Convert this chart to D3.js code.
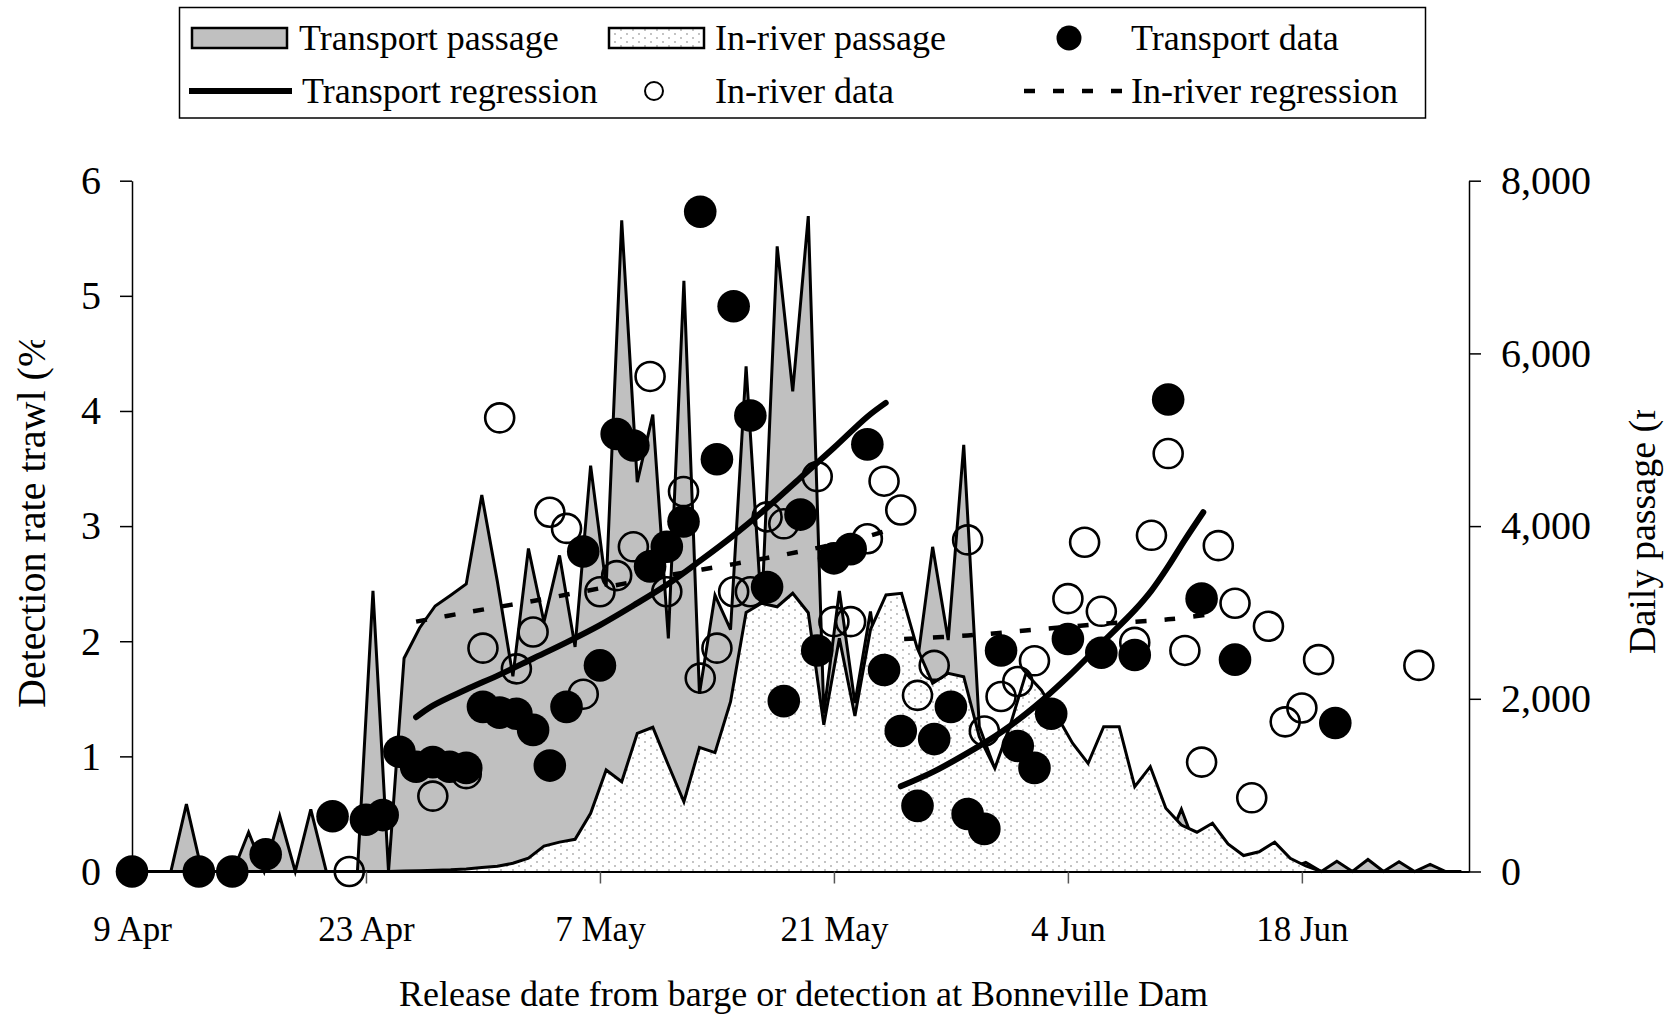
<!DOCTYPE html>
<html><head><meta charset="utf-8">
<script src="https://cdn.jsdelivr.net/npm/d3@7"></script>
<style>
html,body{margin:0;padding:0;background:#fff;}
svg{display:block;}
text{font-family:"Liberation Serif","Times New Roman",serif;fill:#000;}
</style></head><body>
<svg id="chart" width="1676" height="1015"></svg>
<script>
// ---------- DATA ----------
const dateTicks = [0, 14, 28, 42, 56, 70];            // days after 9 Apr
const dateTickLabels = ["9 Apr", "23 Apr", "7 May", "21 May", "4 Jun", "18 Jun"];
const leftTicks = [0, 1, 2, 3, 4, 5, 6];
const rightTicks = [0, 2000, 4000, 6000, 8000];

// daily passage (secondary category axis, 86 days)
const transportPassage = [
  0,0,0,780,0,0,0,455,0,645,
  0,720,0,0,0,3250,0,2470,2820,3075,
  3200,3330,4360,3360,2260,3740,2890,3660,2600,4700,
  3300,7540,4510,5290,2700,6840,2060,3200,2800,5850,
  3000,7240,5560,7590,1830,3250,1950,3010,1800,1600,
  2400,3760,2680,4940,1680,1190,1500,1200,1000,900,
  800,700,600,500,400,350,300,720,250,200,
  150,100,80,60,40,105,0,119,0,139,
  0,112,0,81,0,0
];
const inriverPassage = [
  0,0,0,0,0,0,0,0,0,0,
  0,0,0,0,0,0,0,5,10,15,
  20,30,45,60,95,155,295,340,373,674,
  1175,1040,1600,1670,1233,808,1438,1376,1966,3000,
  3106,3066,3222,2997,1700,2700,1800,2800,3202,3221,
  2590,2180,2295,2256,1561,1195,1700,2295,2100,1800,
  1485,1253,1677,1677,982,1214,732,538,455,558,
  320,185,229,340,153,64,0,0,0,0,
  0,0,0,0,0,0
];

// detection rates (days after 9 Apr)
const transportDay = [0,4,6,8,12,14,15,16,17,18,19,20,21,22,23,24,25,26,27,28,29,30,31,32,33,34,35,36,37,38,39,40,41,42,43,44,45,46,47,48,49,50,51,52,53,54,55,56,58,60,62,64,66,72];
const transportRate = [0,0,0,0.15,0.48,0.45,0.49,1.04,0.91,0.95,0.91,0.90,1.43,1.38,1.37,1.23,0.92,1.43,2.78,1.79,3.80,3.70,2.65,2.82,3.04,5.73,3.58,4.91,3.96,2.47,1.48,3.10,1.92,2.72,2.80,3.71,1.75,1.22,0.57,1.15,1.43,0.50,0.37,1.92,1.09,0.90,1.37,2.02,1.90,1.88,4.10,2.37,1.84,1.29];
const inriverDay = [13,18,20,21,22,23,24,25,26,27,28,29,30,31,32,33,34,35,36,37,38,39,41,42,43,44,45,46,47,48,50,51,52,53,54,56,57,58,60,61,62,63,64,65,66,67,68,69,70,71,77];
const inriverRate = [0,0.655,0.85,1.94,3.94,1.76,2.08,3.12,2.98,1.54,2.43,2.57,2.82,4.30,2.43,3.30,1.68,1.94,2.43,2.43,3.08,3.02,3.43,2.17,2.17,2.89,3.39,3.14,1.53,1.79,2.88,1.22,1.52,1.65,1.83,2.37,2.86,2.26,1.99,2.92,3.63,1.92,0.95,2.83,2.33,0.64,2.13,1.30,1.42,1.84,1.79];

// regressions
const transportReg1Day = [17,18,20,22,24,26,28,30,32,34,36,38,40,42,44,45.1];
const transportReg1Rate = [1.34,1.44,1.58,1.71,1.85,1.99,2.14,2.31,2.49,2.70,2.92,3.16,3.42,3.68,3.95,4.07];
const transportReg2Day = [46,48,50,52,54,56,58,60,61,62,63,64.1];
const transportReg2Rate = [0.74,0.87,1.03,1.21,1.43,1.69,1.98,2.27,2.44,2.65,2.88,3.12];
const inriverReg1Day = [17,20,24,28,32,36,40,44,45.1];
const inriverReg1Rate = [2.17,2.25,2.35,2.46,2.57,2.67,2.78,2.91,2.96];
const inriverReg2Day = [46.2,50,54,58,62,64.3];
const inriverReg2Rate = [2.02,2.05,2.10,2.15,2.19,2.23];

const legendLabels = ["Transport passage","In-river passage","Transport data","Transport regression","In-river data","In-river regression"];
const xTitle = "Release date from barge or detection at Bonneville Dam";
const yLeftTitle = "Detection rate trawl (%";
const yRightTitle = "Daily passage (r";

// ---------- LAYOUT ----------
const svg = d3.select("#chart");
const X0 = 132, X1 = 1469, YB = 871.5, YT = 180.7;

const x = d3.scaleLinear().domain([0, 80]).range([X0, X1]);
const xPass = d3.scaleBand().domain(d3.range(transportPassage.length)).range([X0, X1]);
const yL = d3.scaleLinear().domain([0, 6]).range([YB, YT]);
const yR = d3.scaleLinear().domain([0, 8000]).range([YB, YT]);
const px = i => xPass(i) + xPass.bandwidth() / 2;

const defs = svg.append("defs");
const pat = defs.append("pattern").attr("id", "dots").attr("patternUnits", "userSpaceOnUse")
  .attr("width", 12).attr("height", 8);
pat.append("rect").attr("width", 12).attr("height", 8).attr("fill", "#fff");
pat.append("circle").attr("cx", 3).attr("cy", 2).attr("r", 0.9).attr("fill", "#a8a8a8");
pat.append("circle").attr("cx", 9).attr("cy", 6).attr("r", 0.9).attr("fill", "#a8a8a8");

defs.append("clipPath").attr("id", "clipL").append("rect").attr("x", 0).attr("y", 340).attr("width", 120).attr("height", 600);
defs.append("clipPath").attr("id", "clipR").append("rect").attr("x", 1600).attr("y", 410).attr("width", 76).attr("height", 500);

// ---------- AREAS ----------
const area = d3.area().x((d, i) => px(i)).y0(YB).y1(d => yR(d));
const line = d3.line().x((d, i) => px(i)).y(d => yR(d));

svg.append("path").attr("d", area(transportPassage)).attr("fill", "#c0c0c0");
svg.append("path").attr("d", line(transportPassage)).attr("fill", "none")
  .attr("stroke", "#000").attr("stroke-width", 3);
svg.append("path").attr("d", area(inriverPassage)).attr("fill", "url(#dots)");
svg.append("path").attr("d", line(inriverPassage)).attr("fill", "none")
  .attr("stroke", "#000").attr("stroke-width", 3);

// ---------- AXES ----------
const gx = svg.append("g").attr("transform", `translate(0,${YB})`)
  .call(d3.axisBottom(x).tickValues(dateTicks).tickFormat((d, i) => dateTickLabels[i])
    .tickSize(12).tickSizeOuter(0).tickPadding(33));
gx.select(".domain").attr("stroke", "#000").attr("stroke-width", 2);
gx.selectAll("text").attr("font-size", 35).attr("font-family", "Liberation Serif");

const gl = svg.append("g").attr("transform", `translate(${X0},0)`)
  .call(d3.axisLeft(yL).tickValues(leftTicks).tickFormat(d3.format("d")).tickSize(12).tickSizeOuter(0).tickPadding(19));
gl.selectAll("text").attr("font-size", 40).attr("font-family", "Liberation Serif");

const gr = svg.append("g").attr("transform", `translate(${X1},0)`)
  .call(d3.axisRight(yR).tickValues(rightTicks).tickFormat(d3.format(",")).tickSize(12).tickSizeOuter(0).tickPadding(20));
gr.selectAll("text").attr("font-size", 40).attr("font-family", "Liberation Serif");

[gl, gr].forEach(g => { g.select(".domain").attr("stroke-width", 1.5); g.selectAll(".tick line").attr("stroke-width", 1.5); });
gx.selectAll(".tick line").attr("stroke", "#555").attr("stroke-width", 1.5);

// ---------- REGRESSIONS ----------
const regLine = d3.line().x(d => x(d[0])).y(d => yL(d[1])).curve(d3.curveCatmullRom);
const zip = (a, b) => a.map((d, i) => [d, b[i]]);
[[transportReg1Day, transportReg1Rate], [transportReg2Day, transportReg2Rate]].forEach(([d, r]) => {
  svg.append("path").attr("d", regLine(zip(d, r))).attr("fill", "none")
    .attr("stroke", "#000").attr("stroke-width", 6).attr("stroke-linecap", "round");
});
[[inriverReg1Day, inriverReg1Rate], [inriverReg2Day, inriverReg2Rate]].forEach(([d, r]) => {
  svg.append("path").attr("d", regLine(zip(d, r))).attr("fill", "none")
    .attr("stroke", "#000").attr("stroke-width", 4.5).attr("stroke-dasharray", "11,18");
});

// ---------- POINTS ----------
svg.append("g").selectAll("circle").data(zip(inriverDay, inriverRate)).join("circle")
  .attr("cx", d => x(d[0])).attr("cy", d => yL(d[1])).attr("r", 14.5)
  .attr("fill", "none").attr("stroke", "#000").attr("stroke-width", 2.6);
svg.append("g").selectAll("circle").data(zip(transportDay, transportRate)).join("circle")
  .attr("cx", d => x(d[0])).attr("cy", d => yL(d[1])).attr("r", 16.3).attr("fill", "#000");

// ---------- TITLES ----------
svg.append("text").attr("x", (X0 + X1) / 2 + 3).attr("y", 1006).attr("text-anchor", "middle")
  .attr("font-size", 36).text(xTitle);
svg.append("g").attr("clip-path", "url(#clipL)").append("text")
  .attr("transform", "translate(45,708) rotate(-90)").attr("font-size", 40).text(yLeftTitle);
svg.append("g").attr("clip-path", "url(#clipR)").append("text")
  .attr("transform", "translate(1655,654) rotate(-90)").attr("font-size", 38).text(yRightTitle);

// ---------- LEGEND ----------
const lg = svg.append("g");
lg.append("rect").attr("x", 179.5).attr("y", 7.5).attr("width", 1246).attr("height", 110.5)
  .attr("fill", "#fff").attr("stroke", "#000").attr("stroke-width", 1.5);
lg.append("rect").attr("x", 192).attr("y", 28).attr("width", 95).attr("height", 20)
  .attr("fill", "#c0c0c0").attr("stroke", "#000").attr("stroke-width", 2.5);
lg.append("rect").attr("x", 609).attr("y", 28).attr("width", 95).attr("height", 20)
  .attr("fill", "url(#dots)").attr("stroke", "#000").attr("stroke-width", 2.5);
lg.append("circle").attr("cx", 1069).attr("cy", 38).attr("r", 12.5).attr("fill", "#000");
lg.append("line").attr("x1", 189).attr("x2", 292).attr("y1", 91).attr("y2", 91)
  .attr("stroke", "#000").attr("stroke-width", 6);
lg.append("circle").attr("cx", 654).attr("cy", 91).attr("r", 9).attr("fill", "none")
  .attr("stroke", "#000").attr("stroke-width", 2);
lg.append("line").attr("x1", 1024).attr("x2", 1122).attr("y1", 91).attr("y2", 91)
  .attr("stroke", "#000").attr("stroke-width", 4.5).attr("stroke-dasharray", "11,18");
const lpos = [[299, 50], [715, 50], [1131, 50], [302, 103], [715, 103], [1131, 103]];
lg.selectAll("text.lbl").data(legendLabels).join("text").attr("class", "lbl")
  .attr("x", (d, i) => lpos[i][0]).attr("y", (d, i) => lpos[i][1])
  .attr("font-size", 36).text(d => d);
</script>
</body></html>
